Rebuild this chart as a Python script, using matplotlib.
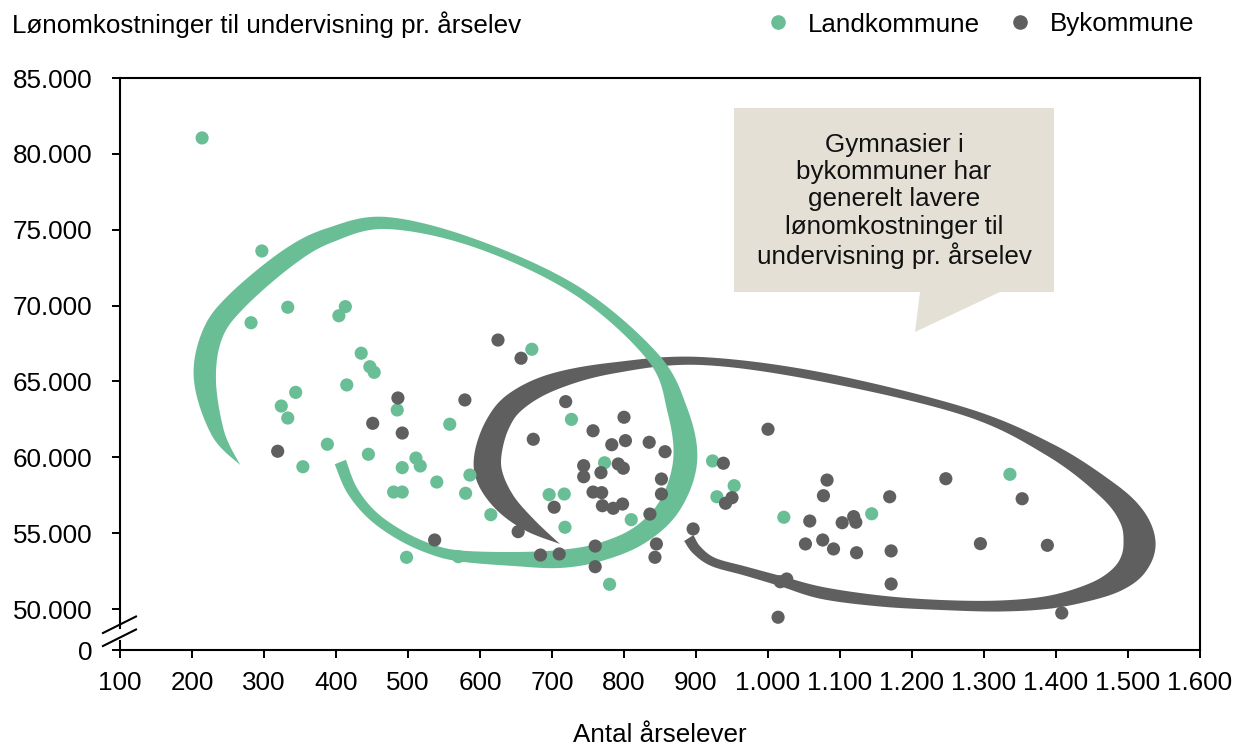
import numpy as np
import matplotlib
matplotlib.use("Agg")
import matplotlib.pyplot as plt
from matplotlib.lines import Line2D
from matplotlib.patches import Polygon

plt.rcParams["font.family"] = ["Liberation Sans", "DejaVu Sans"]

GREEN = "#69BE96"
DARK = "#5F5F5F"
BOX = "#E4E0D6"
FS = 18.7

# Landkommune: students per year vs. wage cost per student
land_x = [214, 297, 282, 333, 413, 404, 435, 447, 453, 415,
          344, 324, 333, 485, 558, 388, 354, 445, 511, 517,
          492, 540, 480, 492, 580, 586, 615, 498, 570, 672,
          727, 773, 696, 717, 810, 718, 780, 923, 953, 929,
          1022, 1144, 1336]
land_y = [81050, 73600, 68870, 69890, 69930, 69330, 66860, 65970, 65600, 64770,
          64280, 63380, 62590, 63120, 62180, 60860, 59380, 60200, 59950, 59430,
          59320, 58370, 57710, 57710, 57630, 58830, 56220, 53410, 53450, 67120,
          62500, 59640, 57540, 57580, 55890, 55390, 51630, 59760, 58130, 57400,
          56050, 56280, 58880]

# Bykommune
by_x = [486, 579, 451, 492, 319, 537, 625, 657, 719, 674,
        757, 800, 802, 783, 835, 857, 744, 744, 768, 792,
        799, 852, 757, 769, 852, 703, 770, 785, 798, 836,
        653, 896, 845, 843, 684, 710, 760, 760, 1000, 938,
        950, 941, 1082, 1077, 1169, 1058, 1103, 1119, 1122, 1052,
        1076, 1091, 1123, 1171, 1171, 1026, 1017, 1014, 1247, 1353,
        1295, 1388, 1408]
by_y = [63910, 63780, 62240, 61600, 60400, 54550, 67730, 66530, 63670, 61190,
        61750, 62640, 61100, 60830, 60990, 60370, 59450, 58720, 58990, 59560,
        59280, 58570, 57710, 57670, 57580, 56710, 56810, 56640, 56920, 56260,
        55100, 55280, 54290, 53410, 53560, 53630, 54150, 52790, 61850, 59610,
        57340, 56970, 58500, 57470, 57400, 55800, 55690, 56090, 55720, 54290,
        54550, 53960, 53710, 53830, 51650, 51980, 51800, 49460, 58590, 57270,
        54310, 54200, 49740]

x_ticks = list(range(100, 1700, 100))
y_ticks = list(range(50000, 90000, 5000))
Y_LOW = 47300  # axis bottom, shown as "0" below the axis break

# hand-drawn outline strokes (centre line in data units, width in px)
green_path_x = [267, 236, 218, 228, 261, 333, 392, 471, 596, 735, 840, 874,
                885, 864, 822, 767, 711, 646, 572, 531, 489, 450, 422, 406]
green_path_y = [59490, 61600, 65100, 68060, 70240, 73140, 74650, 75440, 74060,
                70960, 66610, 63120, 59820, 56860, 54880, 53760, 53300, 53300,
                53500, 53960, 54880, 56200, 57850, 59690]
green_path_w = [0, 13, 22, 21, 20, 18, 15, 12, 8, 9, 12, 20, 24, 22, 19, 18,
                18, 14, 11, 10, 10, 10, 11, 12]

dark_path_x = [711, 669, 635, 614, 611, 624, 649, 701, 785, 906, 1075, 1275,
               1392, 1470, 1505, 1516, 1508, 1486, 1450, 1392, 1322, 1239,
               1156, 1075, 1017, 968, 924, 901, 890]
dark_path_y = [54290, 55540, 56990, 58640, 60150, 62130, 63650, 64960, 65890,
               66350, 65290, 62990, 60480, 57900, 56100, 54400, 53000, 51950,
               51150, 50460, 50200, 50270, 50530, 51060, 51850, 52510, 53100,
               53890, 54680]
dark_path_w = [0, 14, 22, 27, 27, 24, 21, 17, 11, 8, 9, 8, 13, 19, 26, 32, 29,
               23, 17, 13, 11, 10, 11, 12, 10, 9, 9, 10, 11]

note = ("Gymnasier i\nbykommuner har\ngenerelt lavere\n"
        "lønomkostninger til\nundervisning pr. årselev")


def dk(v):
    return f"{v:,}".replace(",", ".")


def catmull_rom(pts, n=24):
    p = np.vstack([pts[0], pts, pts[-1]])
    out = []
    t = np.linspace(0, 1, n, endpoint=False)[:, None]
    for i in range(1, len(p) - 2):
        p0, p1, p2, p3 = p[i - 1], p[i], p[i + 1], p[i + 2]
        out.append(0.5 * (2 * p1 + (p2 - p0) * t
                          + (2 * p0 - 5 * p1 + 4 * p2 - p3) * t ** 2
                          + (3 * p1 - p0 - 3 * p2 + p3) * t ** 3))
    out.append(p[-2][None])
    return np.vstack(out)


def brush_stroke(ax, xs, ys, ws, color):
    disp = ax.transData.transform(np.column_stack([xs, ys]))
    pts = catmull_rom(np.column_stack([disp, ws]))
    xy, w = pts[:, :2], np.clip(pts[:, 2], 0, None)
    tan = np.gradient(xy, axis=0)
    tan /= np.linalg.norm(tan, axis=1)[:, None]
    nrm = np.column_stack([-tan[:, 1], tan[:, 0]])
    left = xy + nrm * w[:, None] / 2
    right = xy - nrm * w[:, None] / 2
    poly = np.vstack([left, right[::-1]])
    poly = ax.transData.inverted().transform(poly)
    ax.add_patch(Polygon(poly, closed=True, facecolor=color, edgecolor="none",
                         zorder=2))


fig = plt.figure(figsize=(12.36, 7.46), dpi=100)
ax = fig.add_axes([120 / 1236, 96 / 746, 1080 / 1236, 572 / 746])
ax.set_xlim(100, 1600)
ax.set_ylim(Y_LOW, 85000)

brush_stroke(ax, dark_path_x, dark_path_y, dark_path_w, DARK)
brush_stroke(ax, green_path_x, green_path_y, green_path_w, GREEN)

ax.scatter(land_x, land_y, s=90, color=GREEN, edgecolors="none", zorder=3)
ax.scatter(by_x, by_y, s=90, color=DARK, edgecolors="none", zorder=3)

ax.set_xticks(x_ticks)
ax.set_xticklabels([dk(v) for v in x_ticks])
ax.set_yticks([Y_LOW] + y_ticks)
ax.set_yticklabels(["0"] + [dk(v) for v in y_ticks])
ax.tick_params(axis="both", direction="out", length=6, width=1.4,
               labelsize=FS, colors="black")
ax.tick_params(axis="x", pad=9)
ax.tick_params(axis="y", pad=14)

for sp in ax.spines.values():
    sp.set_linewidth(1.5)
    sp.set_color("black")

# axis break on the y axis
gap_top = 22 / 572
gap_bot = 9 / 572
ax.spines["left"].set_bounds(Y_LOW + (85000 - Y_LOW) * gap_top, 85000)
ax.plot([0, 0], [0, gap_bot], transform=ax.transAxes, color="black",
        lw=1.5, clip_on=False, zorder=5)
for y0 in (17 / 572, 4 / 572):
    ax.plot([-17 / 1080, 16 / 1080], [y0, y0 + 10 / 572 * 1.65],
            transform=ax.transAxes, color="black", lw=1.5, clip_on=False,
            zorder=5)

# callout box with tail
bx0, bx1 = (734 - 120) / 1080, (1054 - 120) / 1080
by0, by1 = (650 - 292) / 572, (650 - 108) / 572
tail = [((920 - 120) / 1080, by0), ((915 - 120) / 1080, (650 - 332) / 572),
        ((1000 - 120) / 1080, by0)]
callout = [(bx0, by0)] + tail + [(bx1, by0), (bx1, by1), (bx0, by1)]
ax.add_patch(Polygon(callout, closed=True, transform=ax.transAxes,
                     facecolor=BOX, edgecolor="none", zorder=4))
ax.text((bx0 + bx1) / 2, (650 - 201) / 572, note, transform=ax.transAxes,
        ha="center", va="center", fontsize=FS, linespacing=1.18,
        color="#111111", zorder=5)

# titles
fig.text(12 / 1236, 1 - 33 / 746, "Lønomkostninger til undervisning pr. årselev",
         fontsize=FS, ha="left", va="baseline")
fig.text(660 / 1236, 1 - 742 / 746, "Antal årselever", fontsize=FS,
         ha="center", va="baseline")

# legend
for mx, tx, col, lab in [(778, 808, GREEN, "Landkommune"),
                         (1020, 1050, DARK, "Bykommune")]:
    fig.add_artist(Line2D([mx / 1236], [1 - 22 / 746], marker="o",
                          markersize=9.5, color=col, linestyle="none",
                          transform=fig.transFigure))
    fig.text(tx / 1236, 1 - 31.5 / 746, lab, fontsize=FS, ha="left",
             va="baseline")

fig.savefig("out.png", dpi=100)
